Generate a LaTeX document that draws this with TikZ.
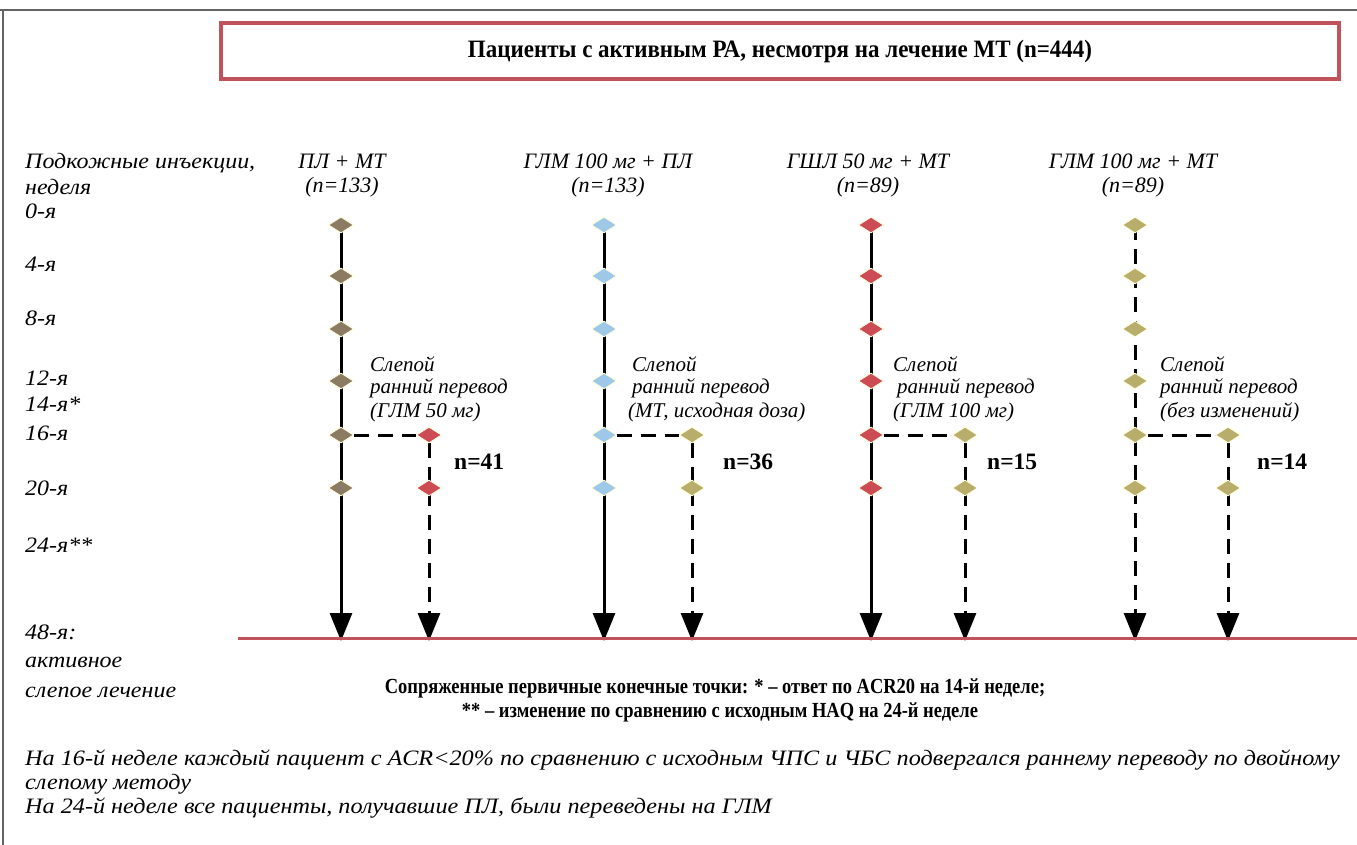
\documentclass[tikz,border=0pt]{standalone}
\usepackage{fontspec}
\setmainfont{Liberation Serif}
\usetikzlibrary{shapes.geometric,arrows.meta,backgrounds}
\definecolor{framegray}{RGB}{100,100,100}
\definecolor{boxred}{RGB}{192,82,92}
\definecolor{dbrown}{RGB}{139,123,98}
\definecolor{dred}{RGB}{204,75,85}
\definecolor{dblue}{RGB}{157,200,232}
\definecolor{dkhaki}{RGB}{184,173,106}
\newcommand\widetxt[1]{\scalebox{1.09}[1]{#1}}
\newcommand\widefoot[1]{\scalebox{1.1}[1]{#1}}
\tikzset{
  gem/.style={diamond,minimum width=25pt,minimum height=16pt,inner sep=0pt,draw=yellow!15,line width=0.8pt,fill=#1},
  lab/.style={font=\fontsize{22}{24}\selectfont\itshape,inner sep=0pt,anchor=west},
  head/.style={font=\fontsize{22}{24}\selectfont\itshape,inner sep=0pt,align=center},
  note/.style={font=\fontsize{21}{24.5}\selectfont\itshape,inner sep=0pt,anchor=west},
  nlab/.style={font=\fontsize{23.5}{24}\selectfont\bfseries,inner sep=0pt,anchor=west},
  foot/.style={font=\fontsize{22}{24}\selectfont\itshape,inner sep=0pt,anchor=west},
  bold/.style={font=\fontsize{21.5}{24}\selectfont\bfseries,inner sep=0pt},
  mainline/.style={line width=3pt,black},
  branchline/.style={line width=3pt,black,dash pattern=on 15pt off 9pt},
  tip/.style={-{Triangle[width=22pt,length=28pt]}}
}
\begin{document}
\begin{tikzpicture}[x=1pt,y=-1pt]
\useasboundingbox (0,0) rectangle (1357,845);
% frame
\draw[framegray,line width=1.6pt] (0,10) -- (1357,10);
\draw[framegray,line width=1.6pt] (3,10) -- (3,845);
% title box
\node[draw=boxred,line width=4pt,minimum width=1118pt,minimum height=56pt,inner sep=0pt,
      font=\fontsize{25}{24}\selectfont\bfseries] (title) at (780,51) {\scalebox{0.92}[1]{Пациенты с активным РА, несмотря на лечение МТ (n=444)}};
% left labels
\node[lab] (l1) at (25,163) {\widetxt{Подкожные инъекции,}};
\node[lab] (l2) at (25,187) {\widetxt{неделя}};
\node[lab] (w0) at (25,211) {\widetxt{0-я}};
\node[lab] (w4) at (25,264) {\widetxt{4-я}};
\node[lab] (w8) at (25,318) {\widetxt{8-я}};
\node[lab] (w12) at (25,378) {\widetxt{12-я}};
\node[lab] (w14) at (25,404) {\widetxt{14-я*}};
\node[lab] (w16) at (25,433) {\widetxt{16-я}};
\node[lab] (w20) at (25,488) {\widetxt{20-я}};
\node[lab] (w24) at (25,545) {\widetxt{24-я**}};
\node[lab] (w48) at (25,632) {\widetxt{48-я:}};
\node[lab] (w48a) at (25,662) {\widetxt{активное}};
\node[lab] (w48b) at (25,692) {\widetxt{слепое лечение}};
% headers
\node[head] (h1) at (342,176) {ПЛ + МТ\\(n=133)};
\node[head] (h2) at (608,176) {ГЛМ 100 мг + ПЛ\\(n=133)};
\node[head] (h3) at (868,176) {ГШЛ 50 мг + МТ\\(n=89)};
\node[head] (h4) at (1133,176) {ГЛМ 100 мг + МТ\\(n=89)};
% diamonds
\foreach \i/\y in {0/225,1/276,2/329,3/381,4/435,5/488}{
  \node[gem=dbrown] (a\i) at (341,\y) {};
  \node[gem=dblue] (b\i) at (604,\y) {};
  \node[gem=dred] (c\i) at (871,\y) {};
  \node[gem=dkhaki] (d\i) at (1135,\y) {};
}
\foreach \i/\y in {4/435,5/488}{
  \node[gem=dred] (ab\i) at (429,\y) {};
  \node[gem=dkhaki] (bb\i) at (692,\y) {};
  \node[gem=dkhaki] (cb\i) at (965,\y) {};
  \node[gem=dkhaki] (db\i) at (1228,\y) {};
}
% end coordinates
\coordinate (ae) at (341,641);
\coordinate (abe) at (429,641);
\coordinate (be) at (604,641);
\coordinate (bbe) at (692,641);
\coordinate (ce) at (871,641);
\coordinate (cbe) at (965,641);
\coordinate (de) at (1135,641);
\coordinate (dbe) at (1228,641);
\begin{scope}[on background layer]
  \draw[mainline,tip] (a0.center) -- (ae);
  \draw[mainline,tip] (b0.center) -- (be);
  \draw[mainline,tip] (c0.center) -- (ce);
  \draw[branchline,tip] (d0.center) -- (de);
  \draw[branchline] (a4.east) -- (ab4.west);
  \draw[branchline] (b4.east) -- (bb4.west);
  \draw[branchline] (c4.east) -- (cb4.west);
  \draw[branchline] (d4.east) -- (db4.west);
  \draw[branchline,tip] (ab4.south) -- (abe);
  \draw[branchline,tip] (bb4.south) -- (bbe);
  \draw[branchline,tip] (cb4.south) -- (cbe);
  \draw[branchline,tip] (db4.south) -- (dbe);
\end{scope}
% red base line
\draw[boxred,line width=3pt] (238,638) -- (1357,638);
% switch notes
\node[note] (s1a) at (370,364) {Слепой};
\node[note] (s1b) at (370,388) {ранний перевод};
\node[note] (s1c) at (370,412) {(ГЛМ 50 мг)};
\node[note] (s2a) at (632,364) {Слепой};
\node[note] (s2b) at (632,388) {ранний перевод};
\node[note] (s2c) at (628,412) {(МТ, исходная доза)};
\node[note] (s3a) at (893,364) {Слепой};
\node[note] (s3b) at (897,388) {ранний перевод};
\node[note] (s3c) at (893,412) {(ГЛМ 100 мг)};
\node[note] (s4a) at (1160,364) {Слепой};
\node[note] (s4b) at (1160,388) {ранний перевод};
\node[note] (s4c) at (1160,412) {(без изменений)};
% n labels
\node[nlab] (n1) at (454,462) {n=41};
\node[nlab] (n2) at (723,462) {n=36};
\node[nlab] (n3) at (987,462) {n=15};
\node[nlab] (n4) at (1257,462) {n=14};
% bottom bold text
\node[bold] (e1) at (715,688) {\scalebox{0.86}[1]{Сопряженные первичные конечные точки: * – ответ по ACR20 на 14-й неделе;}};
\node[bold] (e2) at (720,712) {\scalebox{0.86}[1]{** – изменение по сравнению с исходным HAQ на 24-й неделе}};
% footnotes
\node[foot] (f1) at (25,760) {\widefoot{На 16-й неделе каждый пациент с ACR<20\% по сравнению с исходным ЧПС и ЧБС подвергался раннему переводу по двойному}};
\node[foot] (f2) at (25,784) {\widefoot{слепому методу}};
\node[foot] (f3) at (25,808) {\widefoot{На 24-й неделе все пациенты, получавшие ПЛ, были переведены на ГЛМ}};
\end{tikzpicture}
\end{document}
